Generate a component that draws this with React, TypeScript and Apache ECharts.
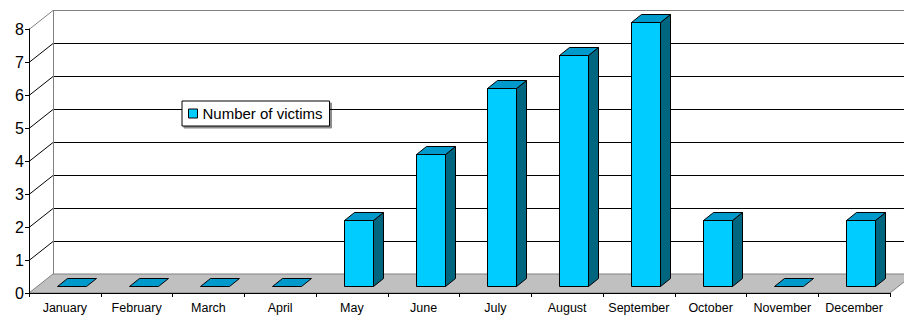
import React, { useEffect, useRef } from 'react';
import * as echarts from 'echarts';

const months = ['January', 'February', 'March', 'April', 'May', 'June', 'July', 'August', 'September', 'October', 'November', 'December'];
const victims = [0, 0, 0, 0, 2, 4, 6, 7, 8, 2, 0, 2];
const yTicks = [0, 1, 2, 3, 4, 5, 6, 7, 8];
const seriesName = 'Number of victims';

const FONT = '"Liberation Sans", Arial, Helvetica, sans-serif';

export default function App() {
  const ref = useRef<HTMLDivElement>(null);
  useEffect(() => {
    const chart = echarts.init(ref.current!, null, { renderer: 'svg' });
    const DX = 24, DY = -19; // wall depth
    const BX = 10, BY = -8; // bar depth
    const snap = (v: number) => Math.round(v) + 0.5;

    chart.setOption({
      animation: false,
      backgroundColor: '#fff',
      grid: { left: 29, right: 14, top: 29, bottom: 25, containLabel: false, outerBoundsMode: 'none' },
      legend: {
        data: [seriesName],
        left: 182,
        top: 101,
        orient: 'horizontal',
        icon: 'rect',
        itemWidth: 9,
        itemHeight: 9,
        padding: [5, 7, 5, 6],
        backgroundColor: '#fff',
        borderColor: '#000',
        borderWidth: 1,
        borderRadius: 0,
        shadowColor: 'rgba(0,0,0,0.45)',
        shadowBlur: 1,
        shadowOffsetX: 2,
        shadowOffsetY: 2,
        itemStyle: { color: '#00ccff', borderColor: '#000', borderWidth: 1 },
        textStyle: { fontSize: 15, color: '#000', fontFamily: FONT },
        selectedMode: false,
      },
      xAxis: {
        type: 'category',
        data: months,
        z: 10,
        axisLine: { lineStyle: { color: '#000', width: 1 } },
        axisTick: { show: true, length: 4, lineStyle: { color: '#000' } },
        axisLabel: { interval: 0, fontSize: 12.5, color: '#000', fontFamily: FONT, margin: 8 },
        splitLine: { show: false },
      },
      yAxis: {
        type: 'value',
        min: 0,
        max: 8,
        interval: 1,
        z: 10,
        axisLine: { show: true, lineStyle: { color: '#000', width: 1 } },
        axisTick: { show: true, length: 4, lineStyle: { color: '#000' } },
        axisLabel: { fontSize: 16, color: '#000', fontFamily: FONT, margin: 5 },
        splitLine: { show: false },
      },
      series: [
        {
          type: 'custom',
          name: 'frame',
          silent: true,
          z: 1,
          data: [[0, 0]],
          renderItem: (params: any, api: any) => {
            const cs = params.coordSys;
            const L = cs.x, R = cs.x + cs.width;
            const ys = yTicks.map((k) => api.coord([0, k])[1]);
            const y0 = ys[0];
            const yTop = ys[ys.length - 1];
            const children: any[] = [];
            children.push({
              type: 'polygon',
              shape: { points: [[L, y0], [R, y0], [R + DX, y0 + DY], [L + DX, y0 + DY]] },
              style: { fill: '#c0c0c0', stroke: '#808080', lineWidth: 1 },
            });
            ys.forEach((y, i) => {
              if (i === 0) return;
              const c = i === ys.length - 1 ? '#808080' : '#000';
              const yb = snap(y + DY);
              children.push({ type: 'line', shape: { x1: L + DX, y1: yb, x2: R + DX + 40, y2: yb }, style: { stroke: c, lineWidth: 1 } });
              children.push({ type: 'line', shape: { x1: L, y1: snap(y), x2: L + DX, y2: yb }, style: { stroke: c, lineWidth: 1 } });
            });
            children.push({
              type: 'line',
              shape: { x1: snap(L + DX), y1: y0 + DY, x2: snap(L + DX), y2: yTop + DY },
              style: { stroke: '#808080', lineWidth: 1 },
            });
            return { type: 'group', children };
          },
        },
        {
          type: 'custom',
          name: seriesName,
          z: 2,
          itemStyle: { color: '#00ccff', borderColor: '#000', borderWidth: 1 },
          data: victims.map((v, i) => [i, v]),
          renderItem: (params: any, api: any) => {
            const i = api.value(0);
            const v = api.value(1);
            const p0 = api.coord([i, 0]);
            const p1 = api.coord([i, v]);
            const x0 = snap(p0[0] - 8);
            const x1 = snap(p0[0] + 21);
            const yB = snap(p0[1] - 7);
            const yT = snap(p1[1] - 7);
            const st = { stroke: '#000', lineWidth: 1 };
            const children: any[] = [];
            if (v > 0) {
              children.push({
                type: 'polygon',
                shape: { points: [[x1, yT], [x1 + BX, yT + BY], [x1 + BX, yB + BY], [x1, yB]] },
                style: { ...st, fill: '#006680' },
              });
              children.push({
                type: 'polygon',
                shape: { points: [[x0, yT], [x1, yT], [x1, yB], [x0, yB]] },
                style: { ...st, fill: '#00ccff' },
              });
            }
            children.push({
              type: 'polygon',
              shape: { points: [[x0, yT], [x1, yT], [x1 + BX, yT + BY], [x0 + BX, yT + BY]] },
              style: { ...st, fill: '#0099cc' },
            });
            return { type: 'group', children };
          },
        },
      ],
    });
    return () => chart.dispose();
  }, []);
  return <div ref={ref} style={{ position: 'fixed', left: 0, top: 0, width: 904, height: 318 }} />;
}
